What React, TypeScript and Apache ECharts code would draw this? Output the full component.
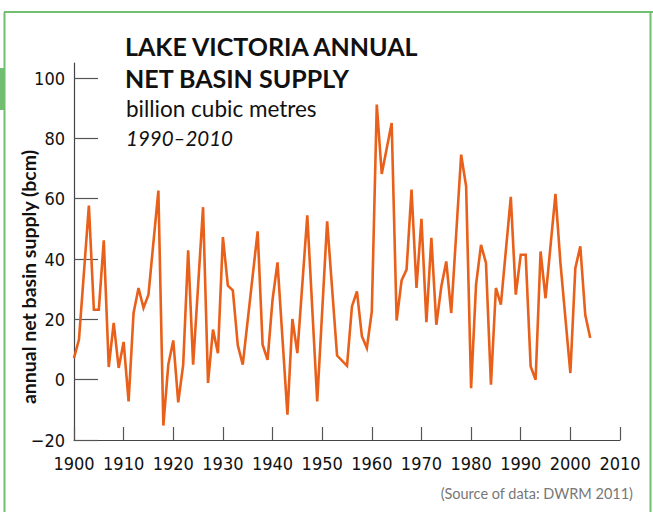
import React, { useEffect, useRef } from "react";
import * as echarts from "echarts";

const years: number[] = [
  1900, 1901, 1903, 1904, 1905, 1906, 1907, 1908, 1909, 1910,
  1911, 1912, 1913, 1914, 1915, 1917, 1918, 1919, 1920, 1921,
  1922, 1923, 1924, 1926, 1927, 1928, 1929, 1930, 1931, 1932,
  1933, 1934, 1937, 1938, 1939, 1940, 1941, 1943, 1944, 1945,
  1947, 1949, 1951, 1953, 1955, 1956, 1957, 1958, 1959, 1960,
  1961, 1962, 1964, 1965, 1966, 1967, 1968, 1969, 1970, 1971,
  1972, 1973, 1974, 1975, 1976, 1978, 1979, 1980, 1981, 1982,
  1983, 1984, 1985, 1986, 1988, 1989, 1990, 1991, 1992, 1993,
  1994, 1995, 1997, 1998, 2000, 2001, 2002, 2003, 2004,
];

const supply: number[] = [
  7.2, 13.3, 57.7, 23.2, 23.2, 46.2, 4.2, 18.8, 3.9, 12.5,
  -7.2, 22.1, 30.4, 23.8, 28.2, 62.7, -15.2, 5, 13, -7.5,
  5, 42.9, 5, 57.2, -1.1, 16.6, 8.8, 47.3, 31.2, 29.6,
  11.4, 5, 49.2, 11.6, 6.6, 26.5, 38.9, -11.6, 20.1, 8.8,
  54.5, -7.2, 52.5, 8, 4.6, 24.3, 29.3, 14.4, 10.5, 22.6,
  91.2, 68.2, 85.1, 19.6, 32.9, 36.5, 63, 30.4, 53.3, 19.1,
  47, 18.2, 30.9, 39.2, 22.1, 74.6, 64.1, -2.8, 31.5, 44.7,
  38.7, -1.7, 30.4, 24.9, 60.6, 28.2, 41.4, 41.4, 4.4, 0,
  42.5, 27, 61.6, 38.7, 2.2, 37, 44.2, 21.5, 13.8,
];

const yTicks: number[] = [-20, 0, 20, 40, 60, 80, 100];
const xTicks: number[] = [1900, 1910, 1920, 1930, 1940, 1950, 1960, 1970, 1980, 1990, 2000, 2010];

const titleLines: string[] = ["LAKE VICTORIA ANNUAL", "NET BASIN SUPPLY"];
const subtitle = "billion cubic metres";
const period = "1990–2010";
const yAxisTitle = "annual net basin supply (bcm)";
const sourceNote = "(Source of data: DWRM 2011)";

const GREEN = "#72bf72";
const ORANGE = "#e8601a";
const TICK_FONT = "'Liberation Sans Narrow', 'DejaVu Sans Condensed', 'Roboto Condensed', Roboto, sans-serif";

export default function App() {
  const ref = useRef<HTMLDivElement>(null);

  useEffect(() => {
    if (!ref.current) return;
    const chart = echarts.init(ref.current, null, { renderer: "svg" });
    chart.setOption({
      animation: false,
      backgroundColor: "#ffffff",
      grid: { left: 74, right: 33, top: 63, bottom: 72 },
      xAxis: {
        type: "value",
        min: 1900,
        max: 2010,
        interval: 10,
        splitLine: { show: false },
        axisLine: { show: true, onZero: false, lineStyle: { color: "#444", width: 1.2 } },
        axisTick: {
          show: true,
          inside: true,
          length: 13,
          customValues: xTicks,
          lineStyle: { color: "#555", width: 1.2 },
        },
        axisLabel: {
          customValues: xTicks,
          formatter: (v: number) => String(v),
          color: "#111",
          fontFamily: TICK_FONT,
          fontSize: 18,
          margin: 14,
        },
      },
      yAxis: {
        type: "value",
        min: -20,
        max: 105,
        interval: 20,
        splitLine: { show: false },
        axisLine: { show: true, onZero: false, lineStyle: { color: "#444", width: 1.2 } },
        axisTick: {
          show: true,
          inside: true,
          length: 24,
          customValues: yTicks,
          lineStyle: { color: "#555", width: 1.2 },
        },
        axisLabel: {
          customValues: yTicks,
          formatter: (v: number) => (v < 0 ? "−" + Math.abs(v) : String(v)),
          color: "#111",
          fontFamily: TICK_FONT,
          fontSize: 18,
          margin: 9,
        },
      },
      series: [
        {
          type: "line",
          data: years.map((y, i) => [y, supply[i]]),
          showSymbol: false,
          symbol: "none",
          lineStyle: { color: ORANGE, width: 2.6, join: "miter" },
          z: 5,
        },
      ],
      graphic: [
        { type: "line", shape: { x1: 4, y1: 12, x2: 653, y2: 12 }, style: { stroke: GREEN, lineWidth: 2 } },
        { type: "line", shape: { x1: 4.5, y1: 12, x2: 4.5, y2: 512 }, style: { stroke: GREEN, lineWidth: 2 } },
        { type: "line", shape: { x1: 650.5, y1: 12, x2: 650.5, y2: 512 }, style: { stroke: GREEN, lineWidth: 2 } },
        { type: "rect", shape: { x: 0, y: 68, width: 5, height: 42 }, style: { fill: GREEN } },
        {
          type: "text",
          x: 125,
          y: 46,
          style: { text: titleLines[0], fontFamily: "Lato", fontWeight: "bold", fontSize: 25, fill: "#111", align: "left", verticalAlign: "middle" },
        },
        {
          type: "text",
          x: 125,
          y: 78,
          style: { text: titleLines[1], fontFamily: "Lato", fontWeight: "bold", fontSize: 25, fill: "#111", align: "left", verticalAlign: "middle" },
        },
        {
          type: "text",
          x: 126,
          y: 108,
          style: { text: subtitle, fontFamily: "Lato", fontSize: 22.5, fill: "#111", align: "left", verticalAlign: "middle" },
        },
        {
          type: "text",
          x: 126,
          y: 138,
          style: { text: period, fontFamily: "Lato", fontStyle: "italic", fontSize: 20.5, fill: "#111", align: "left", verticalAlign: "middle" },
        },
        {
          type: "text",
          x: 28,
          y: 277,
          rotation: Math.PI / 2,
          style: { text: yAxisTitle, fontFamily: "Lato", fontWeight: "bold", fontSize: 19.5, fill: "#111", align: "center", verticalAlign: "middle" },
        },
        {
          type: "text",
          x: 633,
          y: 493,
          style: { text: sourceNote, fontFamily: "Lato", fontSize: 14.5, fill: "#777", align: "right", verticalAlign: "middle" },
        },
      ],
    });
    return () => chart.dispose();
  }, []);

  return <div ref={ref} style={{ width: 653, height: 512, position: "absolute", left: 0, top: 0 }} />;
}
